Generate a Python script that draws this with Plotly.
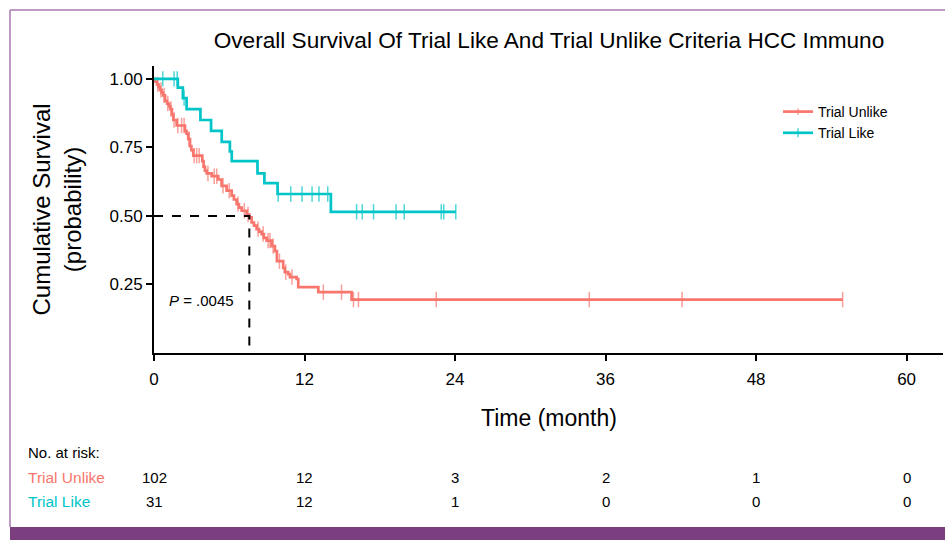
import numpy as np
import plotly.graph_objects as go

# ---------------- data ----------------
title_text = "Overall Survival Of Trial Like And Trial Unlike Criteria HCC Immuno"
group_names = ["Trial Unlike", "Trial Like"]

unlike_event_t = [0.08, 0.24, 0.36, 0.48, 0.6, 0.72, 0.88, 1.04, 1.2, 1.31, 1.43, 1.54, 1.81,
                  2.47, 2.59, 2.73, 2.87, 2.98, 3.13, 3.85, 3.95, 4.06, 4.2, 4.6, 5.12, 5.39,
                  5.79, 6.19, 6.37, 6.59, 6.77, 6.99, 7.39, 7.6, 7.78, 7.97, 8.18, 8.37, 8.58,
                  8.76, 8.98, 9.38, 9.64, 9.8, 10.3, 10.43, 10.7, 10.84, 11.37, 11.5, 13.1, 15.75]
unlike_event_s = [0.99, 0.98, 0.97, 0.96, 0.95, 0.94, 0.92, 0.91, 0.90, 0.89, 0.87, 0.85, 0.83,
                  0.81, 0.80, 0.78, 0.755, 0.74, 0.72, 0.70, 0.68, 0.665, 0.655, 0.645, 0.633, 0.61,
                  0.592, 0.574, 0.56, 0.543, 0.53, 0.519, 0.505, 0.495, 0.476, 0.465, 0.452, 0.443, 0.434,
                  0.42, 0.41, 0.39, 0.372, 0.335, 0.31, 0.295, 0.288, 0.277, 0.27, 0.24, 0.222, 0.195]
unlike_censor_t = [0.3, 0.55, 0.8, 1.1, 1.35, 1.6, 1.9, 2.2, 2.4, 2.8, 3.2, 3.4, 3.6, 4.3, 4.8,
                   5.0, 5.5, 6.0, 6.7, 7.2, 7.5, 8.3, 8.7, 9.1, 9.25, 9.5, 10.0, 10.5, 11.0,
                   13.5, 14.95, 15.9, 16.3, 22.5, 34.7, 42.1, 54.9]

like_event_t = [1.9, 2.3, 2.6, 3.7, 4.55, 5.4, 6.05, 6.2, 8.25, 8.8, 9.85, 14.1]
like_event_s = [0.968, 0.93, 0.89, 0.85, 0.81, 0.77, 0.735, 0.70, 0.655, 0.62, 0.58, 0.515]
like_censor_t = [0.7, 1.6, 1.85, 2.4, 9.9, 10.9, 11.8, 12.6, 13.15, 13.85, 16.15, 16.6, 17.5,
                 19.3, 19.95, 22.9, 23.1, 24.06]

median_time = 7.6
median_surv = 0.5
p_text = "<i>P</i> = .0045"

x_ticks = [0, 12, 24, 36, 48, 60]
y_ticks = [0.25, 0.5, 0.75, 1.0]
y_tick_labels = ["0.25", "0.50", "0.75", "1.00"]
risk_unlike = [102, 12, 3, 2, 1, 0]
risk_like = [31, 12, 1, 0, 0, 0]

colors = ["#F8766D", "#00C5C8"]

# ---------------- layout geometry ----------------
W, H = 945, 540
L, R, T, B = 154, 2, 66, 187
PW, PH = W - L - R, H - T - B


def px(p):
    return (p - L) / PW


def py(p):
    return (H - B - p) / PH


def km_arrays(ev_t, ev_s, cen_t):
    ev_t = np.asarray(ev_t, float)
    ev_s = np.asarray(ev_s, float)
    times = np.concatenate([ev_t, np.asarray(cen_t, float)])
    is_cen = np.concatenate([np.zeros(len(ev_t), bool), np.ones(len(cen_t), bool)])
    order = np.argsort(times, kind="stable")
    times, is_cen = times[order], is_cen[order]
    surv = []
    for t in times:
        idx = np.searchsorted(ev_t, t, side="right") - 1
        surv.append(1.0 if idx < 0 else ev_s[idx])
    xs = np.concatenate([[0.0], times])
    ys = np.concatenate([[1.0], surv])
    sizes = np.concatenate([[0], np.where(is_cen, 11, 0)])
    return xs, ys, sizes


fig = go.Figure()

groups = [(unlike_event_t, unlike_event_s, unlike_censor_t), (like_event_t, like_event_s, like_censor_t)]
for name, col, (et, es, ct) in zip(group_names, colors, groups):
    xs, ys, sz = km_arrays(et, es, ct)
    fig.add_trace(go.Scatter(
        x=xs, y=ys, mode="lines+markers", name=name,
        line=dict(color=col, width=2.7, shape="hv"),
        marker=dict(symbol="line-ns-open", size=sz, color=col, line=dict(color=col, width=1.5)),
        hoverinfo="skip",
    ))

# median dashed lines
fig.add_trace(go.Scatter(
    x=[0, median_time, median_time], y=[median_surv, median_surv, 0],
    mode="lines", line=dict(color="black", width=2, dash="dash"),
    showlegend=False, hoverinfo="skip",
))

regular = "Liberation Sans, Arial, sans-serif"

annotations = [
    dict(text=p_text, x=3.8, y=0.192, xref="x", yref="y", showarrow=False, yanchor="middle",
         font=dict(family=regular, size=15, color="black")),
    dict(text="Cumulative Survival<br>(probability)", x=px(56), y=0.5, xref="paper", yref="paper",
         xanchor="center", yanchor="middle",
         textangle=-90, showarrow=False, font=dict(family=regular, size=24, color="black")),
    dict(text="Time (month)", x=0.5, y=py(418), xref="paper", yref="paper", showarrow=False,
         xanchor="center", yanchor="middle",
         font=dict(family=regular, size=23, color="black")),
    dict(text="No. at risk:", x=px(26), y=py(452), xref="paper", yref="paper", xanchor="left",
         yanchor="middle", showarrow=False, font=dict(family=regular, size=15, color="black")),
    dict(text=group_names[0], x=px(26), y=py(477), xref="paper", yref="paper", xanchor="left",
         yanchor="middle", showarrow=False, font=dict(family=regular, size=15.5, color=colors[0])),
    dict(text=group_names[1], x=px(26), y=py(501), xref="paper", yref="paper", xanchor="left",
         yanchor="middle", showarrow=False, font=dict(family=regular, size=15.5, color=colors[1])),
]
for tv, a, b in zip(x_ticks, risk_unlike, risk_like):
    annotations.append(dict(text=str(a), x=tv, y=py(477), xref="x", yref="paper", showarrow=False,
                            xanchor="center", yanchor="middle",
                            font=dict(family=regular, size=15, color="black")))
    annotations.append(dict(text=str(b), x=tv, y=py(501), xref="x", yref="paper", showarrow=False,
                            xanchor="center", yanchor="middle",
                            font=dict(family=regular, size=15, color="black")))

border = "#A778AE"
shapes = [
    dict(type="line", xref="paper", yref="paper", x0=px(10), x1=px(W + 5), y0=py(10), y1=py(10),
         line=dict(color=border, width=1.5)),
    dict(type="line", xref="paper", yref="paper", x0=px(10), x1=px(10), y0=py(10), y1=py(527),
         line=dict(color=border, width=1.5)),
    dict(type="rect", xref="paper", yref="paper", x0=px(10), x1=px(W + 5), y0=py(527), y1=py(H + 5),
         fillcolor="#7B3F80", line=dict(width=0)),
]

fig.update_layout(
    width=W, height=H,
    margin=dict(l=L, r=R, t=T, b=B),
    paper_bgcolor="white", plot_bgcolor="white",
    title=dict(text=title_text, xref="container", x=549 / W, xanchor="center",
               yref="container", y=1 - 40 / H, yanchor="middle",
               font=dict(family=regular, size=22.6, color="black")),
    xaxis=dict(range=[0, 62.9], tickvals=x_ticks, ticks="outside", ticklen=6, tickwidth=1.5,
               tickcolor="black", showline=True, linecolor="black", linewidth=2, showgrid=False,
               zeroline=False, ticklabelstandoff=4,
               tickfont=dict(family=regular, size=17, color="black")),
    yaxis=dict(range=[0, 1.047], tickvals=y_ticks, ticktext=y_tick_labels, ticks="outside",
               ticklen=6, tickwidth=1.5, tickcolor="black", showline=True, linecolor="black",
               linewidth=2, showgrid=False, zeroline=False,
               tickfont=dict(family=regular, size=17, color="black")),
    legend=dict(x=px(778), y=py(96), xanchor="left", yanchor="top", bgcolor="rgba(0,0,0,0)",
                font=dict(family=regular, size=14, color="black")),
    annotations=annotations,
    shapes=shapes,
)

fig.write_html("out.html", config={"displayModeBar": False},
               post_script="document.body.style.margin='0';document.body.style.overflow='hidden';")
